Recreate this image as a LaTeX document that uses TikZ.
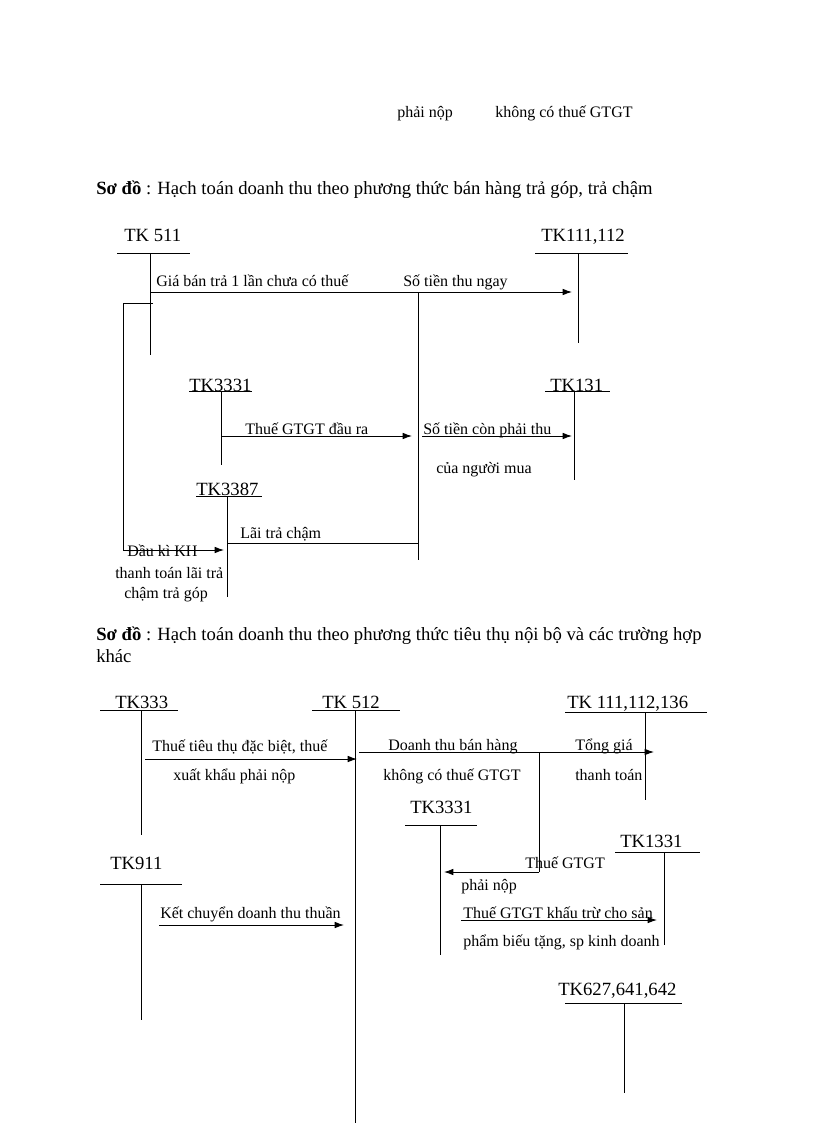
\documentclass[tikz,border=0pt]{standalone}
\usepackage{fontspec}
\setmainfont{Liberation Serif}
\usetikzlibrary{arrows.meta}
\begin{document}
\begin{tikzpicture}[x=0.75pt,y=-0.75pt,
  txt/.style={inner sep=0pt, anchor=base west, font=\fontsize{12}{14}\selectfont},
  tk/.style={inner sep=0pt, anchor=base west, font=\fontsize{14}{16}\selectfont},
  head/.style={inner sep=0pt, anchor=base west, font=\fontsize{14}{16}\selectfont},
  ln/.style={line width=0.75pt},
  arr/.style={line width=0.75pt, -{Latex[length=7pt,width=5pt]}}]
\useasboundingbox (0,0) rectangle (816,1123);

% top remnants
\node[txt] (t1) at (397,118) {phải nộp};
\node[txt] (t2) at (495,118) {không có thuế GTGT};

% ===== Diagram 1 =====
\node[head] (h1) at (96,195) {\textbf{Sơ đồ} : Hạch toán doanh thu theo phương thức bán hàng trả góp, trả chậm};

% TK 511
\node[tk] (l511) at (124,242) {TK 511};
\coordinate (a511) at (117,253); \coordinate (b511) at (190,253);
\coordinate (t511) at (150,253); \coordinate (e511) at (150,355);
\draw[ln] (a511) -- (b511); \draw[ln] (t511) -- (e511);

% TK111,112
\node[tk] (l111) at (541,242) {TK111,112};
\coordinate (a111) at (535,253); \coordinate (b111) at (628,253);
\coordinate (t111) at (578,253); \coordinate (e111) at (578,343);
\draw[ln] (a111) -- (b111); \draw[ln] (t111) -- (e111);

% main arrow
\coordinate (s1) at (150,292); \coordinate (f1) at (572,292);
\draw[arr] (s1) -- (f1);
\node[txt] (g1) at (156,286) {Giá bán trả 1 lần chưa có thuế};
\node[txt] (g2) at (403,286) {Số tiền thu ngay};

% vertical split line
\coordinate (j1) at (418,292); \coordinate (j2) at (418,560);
\draw[ln] (j1) -- (j2);

% TK3331
\node[tk] (l3331) at (189,391) {TK3331};
\coordinate (a3331) at (189,391); \coordinate (b3331) at (252,391);
\coordinate (t3331) at (221,391); \coordinate (e3331) at (221,465);
\draw[ln] (a3331) -- (b3331); \draw[ln] (t3331) -- (e3331);

% TK131
\node[tk] (l131) at (550,391) {TK131};
\coordinate (a131) at (545,391); \coordinate (b131) at (610,391);
\coordinate (t131) at (574,391); \coordinate (e131) at (574,480);
\draw[ln] (a131) -- (b131); \draw[ln] (t131) -- (e131);

\coordinate (s2) at (221,436); \coordinate (f2) at (412,436);
\draw[arr] (s2) -- (f2);
\node[txt] (g3) at (245,434) {Thuế GTGT đầu ra};
\coordinate (s3) at (422,436); \coordinate (f3) at (572,436);
\draw[arr] (s3) -- (f3);
\node[txt] (g4) at (423,434) {Số tiền còn phải thu};
\node[txt] (g5) at (436,473) {của người mua};

% TK3387
\node[tk] (l3387) at (196,495) {TK3387};
\coordinate (a3387) at (196,496); \coordinate (b3387) at (262,496);
\coordinate (t3387) at (227,496); \coordinate (e3387) at (227,597);
\draw[ln] (a3387) -- (b3387); \draw[ln] (t3387) -- (e3387);

\coordinate (s4) at (227,543); \coordinate (f4) at (418,543);
\draw[ln] (s4) -- (f4);
\node[txt] (g6) at (240,538) {Lãi trả chậm};

% left loop
\coordinate (k1) at (153,303); \coordinate (k2) at (123,303);
\coordinate (k3) at (123,550); \coordinate (k4) at (224,550);
\draw[ln] (k1) -- (k2) -- (k3);
\draw[arr] (k3) -- (k4);
\node[txt] (g7) at (127,556) {Đầu kì KH};
\node[txt] (g8) at (115,578) {thanh toán lãi trả};
\node[txt] (g9) at (124,598) {chậm trả góp};

% ===== Diagram 2 =====
\node[head] (h2) at (96,640) {\textbf{Sơ đồ} : Hạch toán doanh thu theo phương thức tiêu thụ nội bộ và các trường hợp};
\node[head] (h2b) at (96,662) {khác};

% TK333
\node[tk] (l333) at (115,708) {TK333};
\coordinate (a333) at (100,710); \coordinate (b333) at (178,710);
\coordinate (t333) at (141,710); \coordinate (e333) at (141,835);
\draw[ln] (a333) -- (b333); \draw[ln] (t333) -- (e333);

% TK 512
\node[tk] (l512) at (322,708) {TK 512};
\coordinate (a512) at (312,710); \coordinate (b512) at (400,710);
\coordinate (t512) at (355,710); \coordinate (e512) at (355,1123);
\draw[ln] (a512) -- (b512); \draw[ln] (t512) -- (e512);

% TK 111,112,136
\node[tk] (l136) at (567,708) {TK 111,112,136};
\coordinate (a136) at (565,712); \coordinate (b136) at (707,712);
\coordinate (t136) at (645,712); \coordinate (e136) at (645,800);
\draw[ln] (a136) -- (b136); \draw[ln] (t136) -- (e136);

\coordinate (s5) at (145,759); \coordinate (f5) at (357,759);
\draw[arr] (s5) -- (f5);
\node[txt] (m1) at (152,751) {Thuế tiêu thụ đặc biệt, thuế};
\node[txt] (m2) at (173,780) {xuất khẩu phải nộp};

\coordinate (s6) at (359,752); \coordinate (f6) at (654,752);
\draw[arr] (s6) -- (f6);
\node[txt] (m3) at (388,750) {Doanh thu bán hàng};
\node[txt] (m4) at (383,780) {không có thuế GTGT};
\node[txt] (m5) at (575,750) {Tổng giá};
\node[txt] (m6) at (575,780) {thanh toán};

% branch to TK3331
\coordinate (q1) at (539,752); \coordinate (q2) at (539,872); \coordinate (q3) at (444,872);
\draw[ln] (q1) -- (q2);
\draw[arr] (q2) -- (q3);
\node[txt] (m7) at (525,868) {Thuế GTGT};
\node[txt] (m8) at (461,890) {phải nộp};

% TK3331 (2)
\node[tk] (l3331b) at (410,813) {TK3331};
\coordinate (a3331b) at (405,825); \coordinate (b3331b) at (477,825);
\coordinate (t3331b) at (440,825); \coordinate (e3331b) at (440,955);
\draw[ln] (a3331b) -- (b3331b); \draw[ln] (t3331b) -- (e3331b);

% TK1331
\node[tk] (l1331) at (620,847) {TK1331};
\coordinate (a1331) at (615,852); \coordinate (b1331) at (700,852);
\coordinate (t1331) at (664,852); \coordinate (e1331) at (664,945);
\draw[ln] (a1331) -- (b1331); \draw[ln] (t1331) -- (e1331);

\coordinate (s7) at (461,920); \coordinate (f7) at (657,920);
\draw[arr] (s7) -- (f7);
\node[txt] (m9) at (463,918) {Thuế GTGT khấu trừ cho sản};
\node[txt] (m10) at (463,946) {phẩm biếu tặng, sp kinh doanh};

% TK911
\node[tk] (l911) at (110,869) {TK911};
\coordinate (a911) at (100,884); \coordinate (b911) at (182,884);
\coordinate (t911) at (141,884); \coordinate (e911) at (141,1020);
\draw[ln] (a911) -- (b911); \draw[ln] (t911) -- (e911);

\coordinate (s8) at (159,925); \coordinate (f8) at (344,925);
\draw[arr] (s8) -- (f8);
\node[txt] (m11) at (160,918) {Kết chuyển doanh thu thuần};

% TK627,641,642
\node[tk] (l627) at (558,995) {TK627,641,642};
\coordinate (a627) at (565,1003); \coordinate (b627) at (682,1003);
\coordinate (t627) at (624,1003); \coordinate (e627) at (624,1093);
\draw[ln] (a627) -- (b627); \draw[ln] (t627) -- (e627);

\end{tikzpicture}
\end{document}
